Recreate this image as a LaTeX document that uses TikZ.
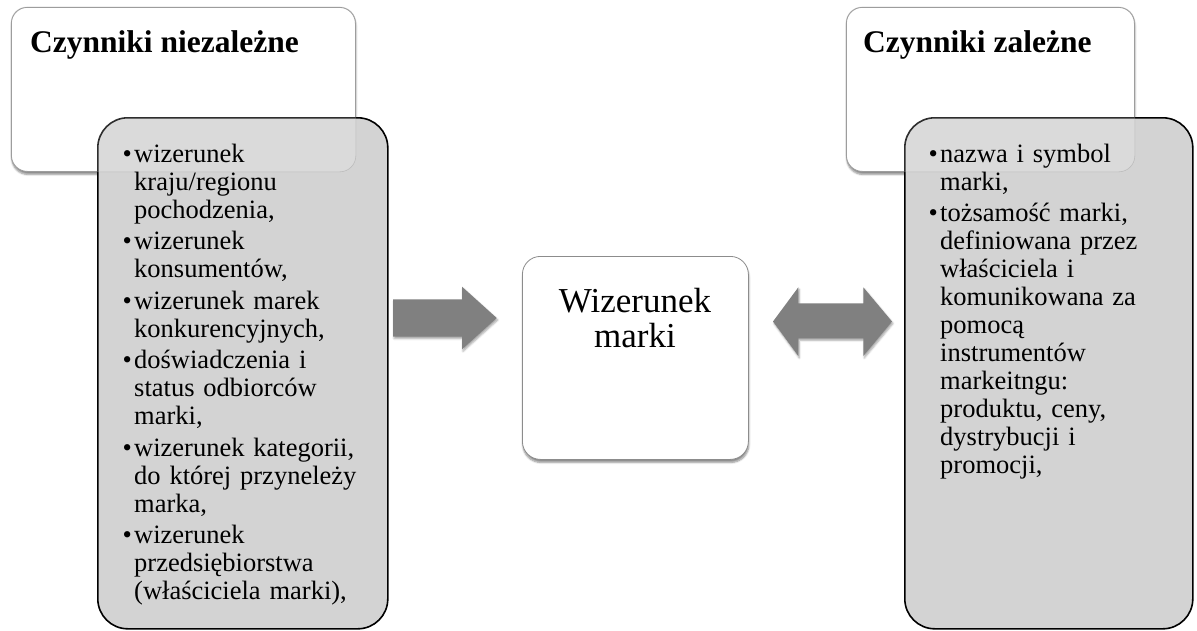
\documentclass[tikz,border=0pt]{standalone}
\usepackage{fontspec}
\setmainfont{Liberation Serif}
\usetikzlibrary{shadows.blur}

\definecolor{panelgray}{RGB}{211,211,211}
\definecolor{arrowgray}{RGB}{128,128,128}
\definecolor{cardline}{RGB}{140,140,140}

% one bulleted entry with a hanging indent
\newcommand\bitem[1]{\noindent\hangindent=11.5pt\hangafter=1%
  \makebox[11.5pt][l]{\textbullet}#1\par}

\begin{document}
\begin{tikzpicture}[x=1pt,y=-1pt,
  card/.style={draw=cardline, line width=0.8pt, fill=white, rounded corners=16pt,
    inner sep=0pt, anchor=north west,
    blur shadow={shadow xshift=0.5pt, shadow yshift=-3pt, shadow blur steps=6, shadow opacity=45}},
  panel/.style={draw=black, line width=1.6pt, fill=panelgray, rounded corners=30pt,
    inner sep=0pt, anchor=north west},
  veil/.style={fill=white, fill opacity=0.18, draw=cardline, draw opacity=0.35,
    line width=0.6pt, rounded corners=16pt},
  heading/.style={font=\bfseries\fontsize{31.5}{32}\selectfont, inner sep=0pt, anchor=base west},
  listtext/.style={font=\fontsize{26.5}{28}\selectfont, inner sep=0pt, anchor=base west, align=left},
  bigarrow/.style={fill=arrowgray,
    blur shadow={shadow xshift=1pt, shadow yshift=-2pt, shadow blur steps=4, shadow opacity=35}},
]
\useasboundingbox (0,0) rectangle (1197,630);

% upper cards with their headings
\node[card, minimum width=344pt, minimum height=164pt] (lcard) at (11,7) {};
\node[card, minimum width=288pt, minimum height=164pt] (rcard) at (846,7) {};

% grey panels holding the lists
\node[panel, minimum width=290pt, minimum height=511pt] (lpanel) at (97,117) {};
\node[panel, minimum width=288pt, minimum height=511pt] (rpanel) at (904,117) {};

% translucent part of the cards lying over the panels
\draw[veil] (lcard.north west) rectangle (lcard.south east);
\draw[veil] (rcard.north west) rectangle (rcard.south east);

\node[heading] (lhead) at (30,52) {Czynniki niezależne};
\node[heading] (rhead) at (863,52) {Czynniki zależne};

% lists
\node[listtext, text width=262pt] (llist) at (122.5,162) {%
  \bitem{wizerunek\newline kraju/regionu\newline pochodzenia,}\vspace{3.5pt}%
  \bitem{wizerunek\newline konsumentów,}\vspace{3.5pt}%
  \bitem{wizerunek marek\newline konkurencyjnych,}\vspace{3.5pt}%
  \bitem{doświadczenia i\newline status odbiorców\newline marki,}\vspace{3.5pt}%
  \bitem{wizerunek kategorii,\newline do której przyneleży\newline marka,}\vspace{3.5pt}%
  \bitem{wizerunek\newline przedsiębiorstwa\newline (właściciela marki),}};

\node[listtext, text width=258pt] (rlist) at (928.5,162) {%
  \bitem{nazwa i symbol\newline marki,}\vspace{3.5pt}%
  \bitem{tożsamość marki,\newline definiowana przez\newline właściciela i\newline
    komunikowana za\newline pomocą\newline instrumentów\newline markeitngu:\newline
    produktu, ceny,\newline dystrybucji i\newline promocji,}};

% central card
\node[card, minimum width=226pt, minimum height=203pt, rounded corners=18pt] (centre) at (522,256) {};
\node[font=\fontsize{35}{35}\selectfont, text width=220pt, align=center, inner sep=0pt,
  anchor=base] (ctext) at (635,312) {Wizerunek\\marki};

% block arrows
\fill[bigarrow] (393,299.3) -- (462,299.3) -- (462,286.7) -- (496.7,318)
  -- (462,349.3) -- (462,336.7) -- (393,336.7) -- cycle;
\fill[bigarrow] (773,321.5) -- (798.3,287.3) -- (798.3,303.3) -- (863.3,303.3)
  -- (863.3,287.3) -- (892,321.5) -- (863.3,356) -- (863.3,338.3)
  -- (798.3,338.3) -- (798.3,356) -- cycle;
\end{tikzpicture}
\end{document}
